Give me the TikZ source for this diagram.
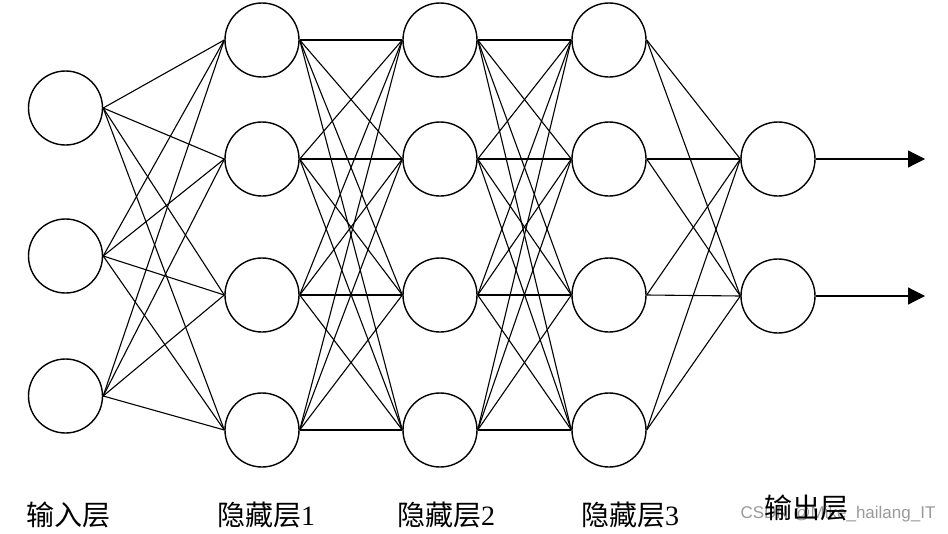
\documentclass[tikz,border=0pt]{standalone}
\usepackage{fontspec}
\setmainfont{Liberation Serif}
\newfontfamily\cjk{Noto Sans CJK SC}
\newfontfamily\wmfont{Liberation Sans}
\usetikzlibrary{arrows.meta}
\begin{document}
\begin{tikzpicture}[x=1pt,y=-1pt,
  neuron/.style={circle,draw,line width=1.4pt,minimum size=74pt,inner sep=0pt},
  conn/.style={line width=1.1pt},
  outarrow/.style={line width=1.2pt,-{Triangle[length=17pt,width=17pt]}},
  lab/.style={font=\fontsize{28}{28}\selectfont\cjk,anchor=center}]
\useasboundingbox (0,0) rectangle (948,533);
% input layer
\node[neuron] (i1) at (65.5,108) {};
\node[neuron] (i2) at (65.5,256) {};
\node[neuron] (i3) at (65.5,396) {};
% hidden layers
\foreach \l/\x in {a/262,b/440,c/609}{
  \node[neuron] (\l1) at (\x,40) {};
  \node[neuron] (\l2) at (\x,159) {};
  \node[neuron] (\l3) at (\x,295) {};
  \node[neuron] (\l4) at (\x,430) {};
}
% output layer
\node[neuron] (o1) at (778,159) {};
\node[neuron] (o2) at (778,296) {};
\coordinate (e1) at (925,159);
\coordinate (e2) at (925,296);
% connections
\foreach \i in {1,2,3}{\foreach \j in {1,2,3,4}{\draw[conn] (i\i.east) -- (a\j.west);}}
\foreach \i in {1,2,3,4}{\foreach \j in {1,2,3,4}{
  \draw[conn] (a\i.east) -- (b\j.west);
  \draw[conn] (b\i.east) -- (c\j.west);}}
\foreach \i in {1,2,3,4}{\foreach \j in {1,2}{\draw[conn] (c\i.east) -- (o\j.west);}}
\draw[outarrow] (o1.east) -- (e1);
\draw[outarrow] (o2.east) -- (e2);
% labels
\node[lab] (t1) at (69,515) {输入层};
\node[lab] (t2) at (266,515) {隐藏层{\rmfamily 1}};
\node[lab] (t3) at (446,515) {隐藏层{\rmfamily 2}};
\node[lab] (t4) at (630,515) {隐藏层{\rmfamily 3}};
\node[font=\fontsize{17}{17}\selectfont\wmfont,text=black!40,anchor=center] (wm) at (838,514) {CSDN @Mike\_hailang\_IT};
\node[lab] (t5) at (806,508) {输出层};
\end{tikzpicture}
\end{document}
